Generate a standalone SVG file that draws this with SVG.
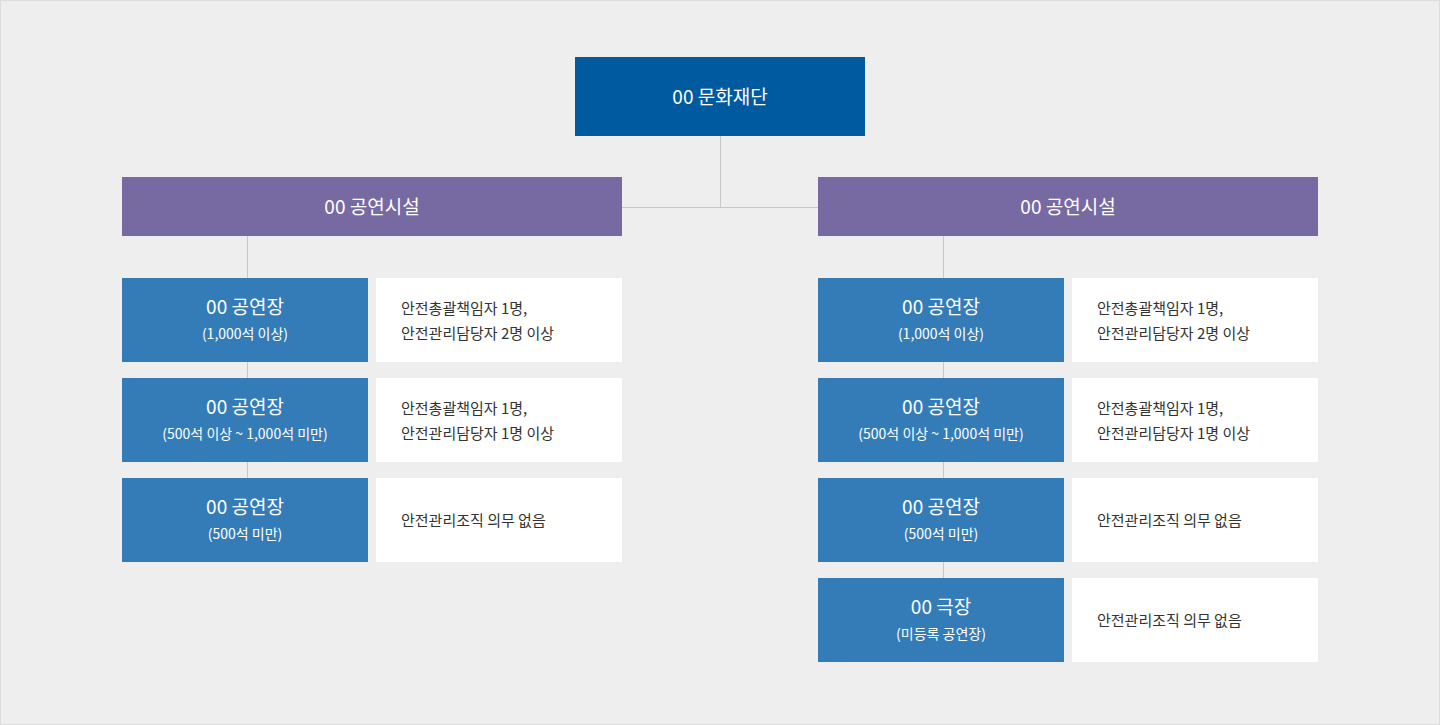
<svg xmlns="http://www.w3.org/2000/svg" width="1440" height="725" viewBox="0 0 1440 725">
<style>
text{font-family:"Noto Sans CJK KR","Noto Sans",sans-serif}
.t{fill:#fff;text-anchor:middle}
.h{font-size:19px}
.s{font-size:14px}
.d{fill:#333;font-size:15px}
.b{fill:#337cb7}
.p{fill:#7769a1}
.w{fill:#fff}
.c{stroke:#c8c8c8;stroke-width:1;fill:none}
</style>
<rect x="0.5" y="0.5" width="1439" height="724" fill="#eeeeee" stroke="#dcdcdc"/>
<g id="connectors">
<path class="c" d="M720.5 136V207.5M622 207.5H818M247.5 236V478M943.5 236V578"/>
</g>
<g id="root"><rect x="575" y="57" width="290" height="79" fill="#005a9f"/><text class="t h" x="720" y="104">00 문화재단</text></g>
<g id="facL"><rect class="p" x="122" y="177" width="500" height="59"/><text class="t h" x="372" y="214">00 공연시설</text></g>
<g id="facR"><rect class="p" x="818" y="177" width="500" height="59"/><text class="t h" x="1068" y="214">00 공연시설</text></g>
<g id="L1"><rect class="b" x="122" y="278" width="246" height="84"/><text class="t h" x="245" y="314">00 공연장</text><text class="t s" x="245" y="339">(1,000석 이상)</text>
<rect class="w" x="376" y="278" width="246" height="84"/><text class="d" x="401" y="314">안전총괄책임자 1명,</text><text class="d" x="401" y="339">안전관리담당자 2명 이상</text></g>
<g id="L2"><rect class="b" x="122" y="378" width="246" height="84"/><text class="t h" x="245" y="414">00 공연장</text><text class="t s" x="245" y="439">(500석 이상 ~ 1,000석 미만)</text>
<rect class="w" x="376" y="378" width="246" height="84"/><text class="d" x="401" y="414">안전총괄책임자 1명,</text><text class="d" x="401" y="439">안전관리담당자 1명 이상</text></g>
<g id="L3"><rect class="b" x="122" y="478" width="246" height="84"/><text class="t h" x="245" y="514">00 공연장</text><text class="t s" x="245" y="539">(500석 미만)</text>
<rect class="w" x="376" y="478" width="246" height="84"/><text class="d" x="401" y="526">안전관리조직 의무 없음</text></g>
<g id="R1"><rect class="b" x="818" y="278" width="246" height="84"/><text class="t h" x="941" y="314">00 공연장</text><text class="t s" x="941" y="339">(1,000석 이상)</text>
<rect class="w" x="1072" y="278" width="246" height="84"/><text class="d" x="1097" y="314">안전총괄책임자 1명,</text><text class="d" x="1097" y="339">안전관리담당자 2명 이상</text></g>
<g id="R2"><rect class="b" x="818" y="378" width="246" height="84"/><text class="t h" x="941" y="414">00 공연장</text><text class="t s" x="941" y="439">(500석 이상 ~ 1,000석 미만)</text>
<rect class="w" x="1072" y="378" width="246" height="84"/><text class="d" x="1097" y="414">안전총괄책임자 1명,</text><text class="d" x="1097" y="439">안전관리담당자 1명 이상</text></g>
<g id="R3"><rect class="b" x="818" y="478" width="246" height="84"/><text class="t h" x="941" y="514">00 공연장</text><text class="t s" x="941" y="539">(500석 미만)</text>
<rect class="w" x="1072" y="478" width="246" height="84"/><text class="d" x="1097" y="526">안전관리조직 의무 없음</text></g>
<g id="R4"><rect class="b" x="818" y="578" width="246" height="84"/><text class="t h" x="941" y="614">00 극장</text><text class="t s" x="941" y="639">(미등록 공연장)</text>
<rect class="w" x="1072" y="578" width="246" height="84"/><text class="d" x="1097" y="626">안전관리조직 의무 없음</text></g>
</svg>
